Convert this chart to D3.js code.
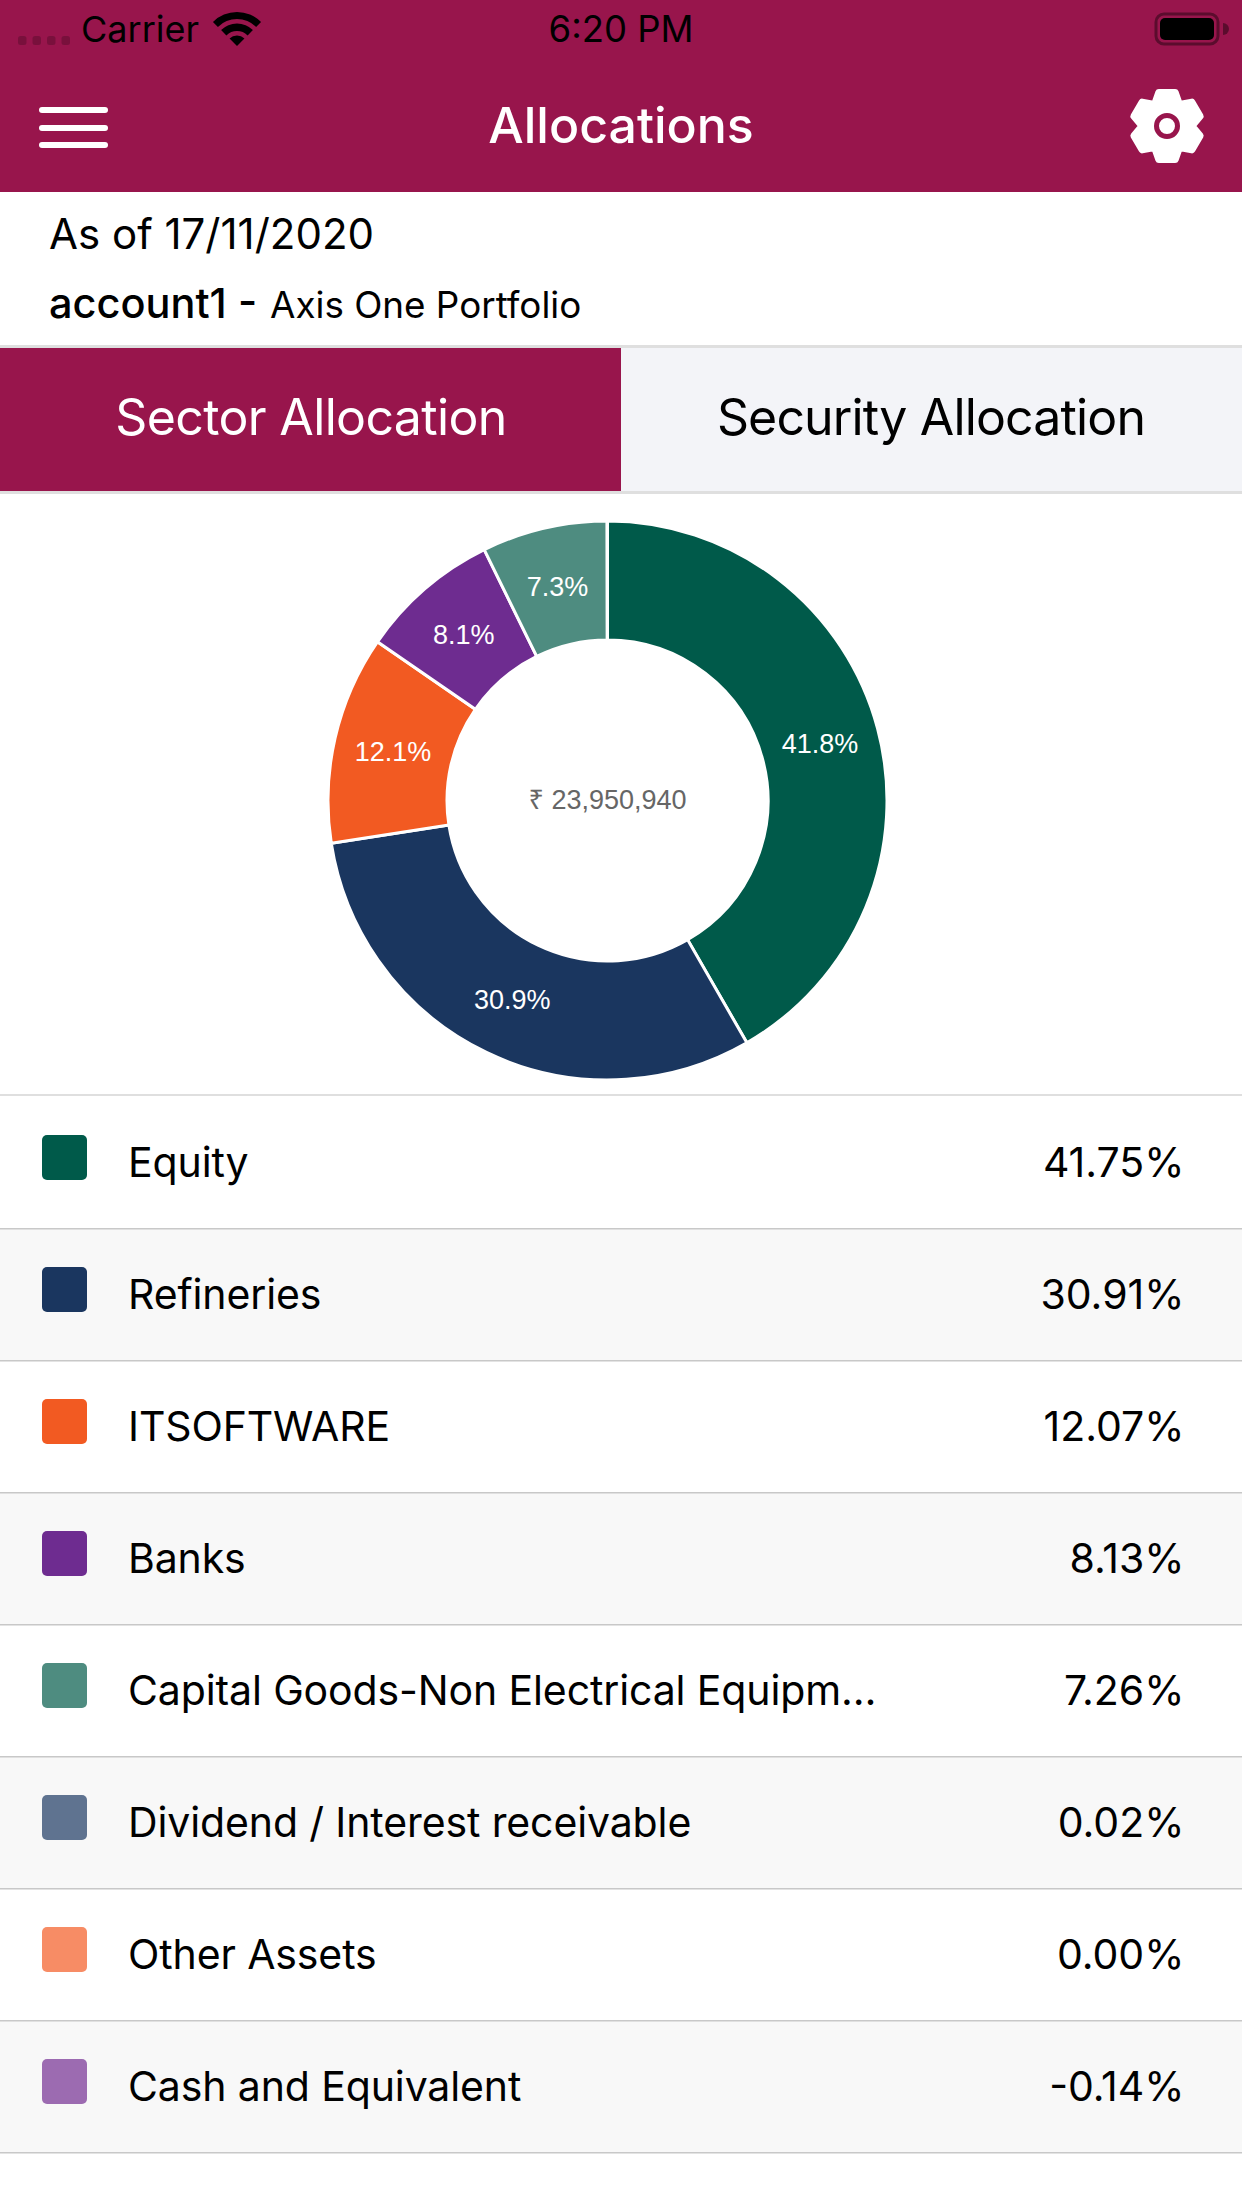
<!DOCTYPE html>
<html><head><meta charset="utf-8">
<script src="https://cdn.jsdelivr.net/npm/d3@7"></script>
<style>html,body{margin:0;padding:0;background:#fff}svg{display:block}text{font-family:Inter,"Noto Sans",sans-serif}</style>
</head><body><svg id="c" width="1242" height="2208"></svg>
<script>
const categories=["Equity","Refineries","ITSOFTWARE","Banks","Capital Goods-Non Electrical Equipm…","Dividend / Interest receivable","Other Assets","Cash and Equivalent"];
const values=[41.75,30.91,12.07,8.13,7.26,0.02,0.00,-0.14];
const valueLabels=["41.75%","30.91%","12.07%","8.13%","7.26%","0.02%","0.00%","-0.14%"];
const sliceLabels=["41.8%","30.9%","12.1%","8.1%","7.3%","","",""];
const colors=["#005a4a","#1a365f","#f25a22","#6e2c90","#4e8c80","#5f7390","#f78c65","#9c6bb1"];
const CRIMSON="#98154c";
const svg=d3.select("#c");
const T=(x,y,s,size,fill,anchor="start",weight=400,g=svg)=>g.append("text").attr("x",x).attr("y",y).attr("font-size",size).attr("fill",fill).attr("text-anchor",anchor).attr("font-weight",weight).text(s);
const R=(x,y,w,h,fill,rx=0)=>svg.append("rect").attr("x",x).attr("y",y).attr("width",w).attr("height",h).attr("fill",fill).attr("rx",rx);

// header
R(0,0,1242,192,CRIMSON);
d3.range(4).forEach(i=>R(18+i*14.5,36,8.5,9,"#000",2.5).attr("opacity",0.2));
T(81,42,"Carrier",36,"#000");
const wifi=d3.arc().startAngle(-Math.PI/4).endAngle(Math.PI/4);
[[0,10.5],[15,22.5],[27,34]].forEach(r=>svg.append("path").attr("transform","translate(237,46)").attr("d",wifi({innerRadius:r[0],outerRadius:r[1]})).attr("fill","#000"));
T(621,42,"6:20 PM",36.5,"#000","middle");
svg.append("rect").attr("x",1156).attr("y",14).attr("width",62).attr("height",30).attr("rx",8).attr("fill","none").attr("stroke","#000").attr("stroke-width",3).attr("opacity",0.4);
R(1160,18,54,22,"#000",5);
svg.append("path").attr("d","M1223,23a6,6 0 0 1 0,12z").attr("fill","#000").attr("opacity",0.4);
[107,125,142].forEach(y=>R(39,y,69,6,"#fff",3));
T(621,143,"Allocations",50,"#fff","middle",500);
// gear
const gearPts=[];
d3.range(6).forEach(i=>{const a=i*Math.PI/3;
 [[-0.52,25],[-0.24,34.5],[0.24,34.5],[0.52,25]].forEach(([d,r])=>gearPts.push([r*Math.sin(a+d),-r*Math.cos(a+d)]));});
const gear=svg.append("g").attr("transform","translate(1167,126)");
gear.append("path").attr("d",d3.line().curve(d3.curveLinearClosed)(gearPts)).attr("fill","#fff").attr("stroke","#fff").attr("stroke-width",7).attr("stroke-linejoin","round");
gear.append("circle").attr("r",10.5).attr("fill","#fff").attr("stroke",CRIMSON).attr("stroke-width",5);

// sub header
T(49,249,"As of 17/11/2020",42,"#000");
T(49,318,"account1 -",41.5,"#000","start",500);
T(270,318,"Axis One Portfolio",36.8,"#000");

// tabs
R(0,345,1242,3,"#dfdfdf");
R(0,348,621,143,CRIMSON);
R(621,348,621,143,"#f3f4f8");
R(0,491,1242,3,"#dfdfdf");
T(311,435,"Sector Allocation",50,"#fff","middle").attr("letter-spacing",-0.65);
T(931,435,"Security Allocation",50,"#000","middle").attr("letter-spacing",-0.85);

// donut
const cx=607.5,cy=800.5,rO=279.5,rI=160.5;
const pie=d3.pie().sort(null).value(d=>Math.max(0,d.v));
const arc=d3.arc().innerRadius(rI).outerRadius(rO);
const arcs=pie(values.map((v,i)=>({v,i})));
const g=svg.append("g").attr("transform",`translate(${cx},${cy})`);
g.selectAll("path").data(arcs).join("path").attr("d",arc).attr("fill",d=>colors[d.data.i]).attr("stroke","#fff").attr("stroke-width",3);
g.selectAll("text.l").data(arcs.filter(d=>sliceLabels[d.data.i])).join("text").attr("class","l")
 .attr("transform",d=>`translate(${arc.centroid(d)})`).attr("text-anchor","middle").attr("dy","0.36em")
 .attr("fill","#fff").attr("font-size",27).style("font-family","'Liberation Sans',Arial,sans-serif").text(d=>sliceLabels[d.data.i]);
g.append("text").attr("text-anchor","middle").attr("y",-1).attr("dy","0.36em").attr("fill","#666").attr("font-size",27).style("font-family","'Liberation Sans','Noto Sans',sans-serif").text("₹ 23,950,940");

// table
const y0=1096,rowH=132;
R(0,y0-2,1242,2,"#dfdfdf");
categories.forEach((c,i)=>{ if(i%2) R(0,y0+i*rowH,1242,rowH,"#f8f8f8"); });
categories.forEach((c,i)=>{
 const y=y0+i*rowH;
 R(0,y+rowH,1242,1.5,"#c8c8c8");
 R(42,y+39,45,45,colors[i],5);
 T(128,y+81,c,41,"#000").attr("letter-spacing",-0.12);
 T(1184.5,y+81,valueLabels[i],41,"#000","end");
});
</script></body></html>
